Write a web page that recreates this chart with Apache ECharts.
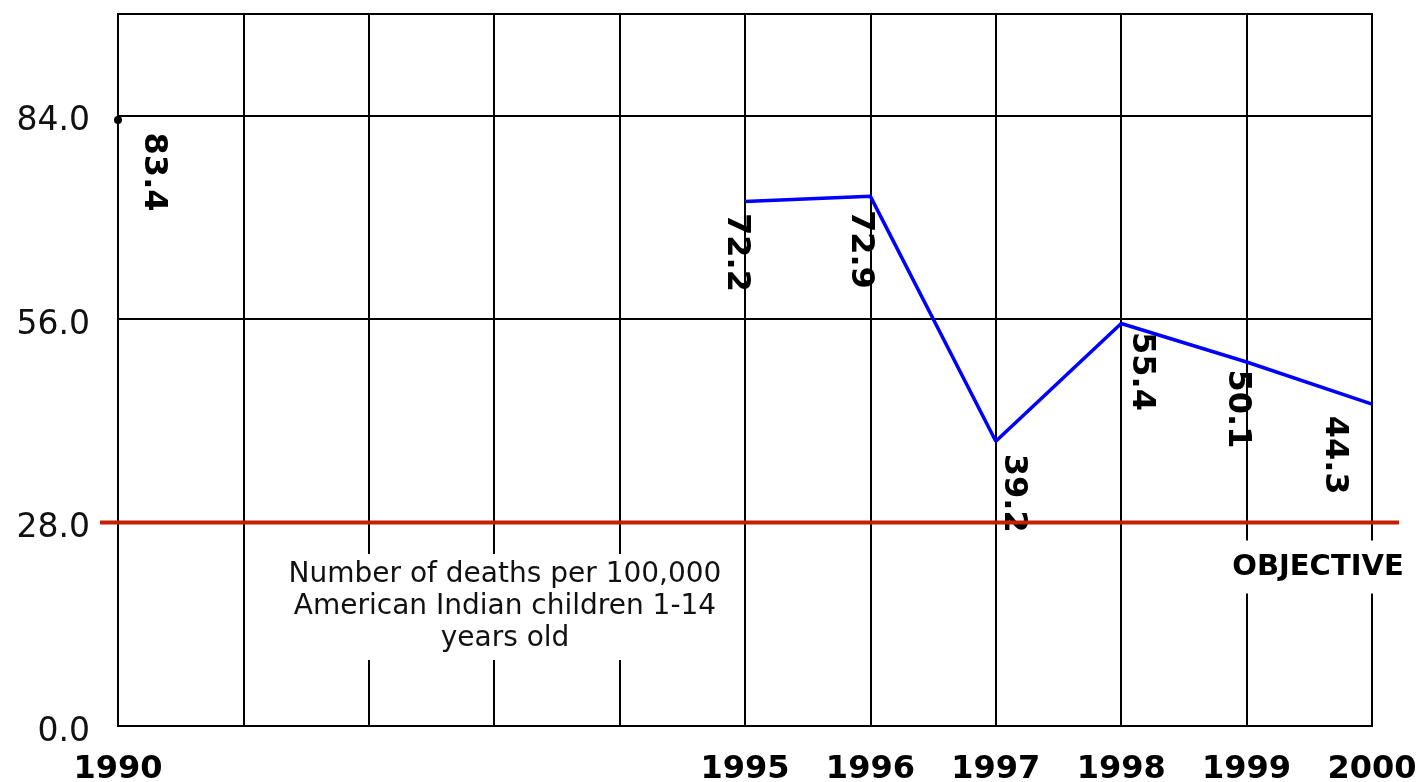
<!DOCTYPE html>
<html>
<head>
<meta charset="utf-8">
<title>Deaths of American Indian children 1-14</title>
<script src="https://cdn.jsdelivr.net/npm/echarts@6/dist/echarts.min.js"></script>
<style>
  html, body { margin: 0; padding: 0; background: #fff; }
  #chart { width: 1423px; height: 782px; }
</style>
</head>
<body>
<div id="chart"></div>
<script>
var years = [1990, 1991, 1992, 1993, 1994, 1995, 1996, 1997, 1998, 1999, 2000]
var rates = [83.4, null, null, null, null, 72.2, 72.9, 39.2, 55.4, 50.1, 44.3]
var labeledYears = [1990, 1995, 1996, 1997, 1998, 1999, 2000]
var yTickStep = 28
var yMax = 98
var objective = 28

// where each value label sits, relative to its point (screen px)
var labelShift = {
  1990: [35, 52],
  1995: [-9, 51],
  1996: [-10, 53],
  1997: [18, 52],
  1998: [20, 48],
  1999: [-9, 47],
  2000: [-38, 51]
}

var FONT = '"DejaVu Sans", Verdana, sans-serif'

var seriesData = years.map(function (y, i) {
  var v = rates[i]
  var prev = i > 0 ? rates[i - 1] : null
  var next = i < rates.length - 1 ? rates[i + 1] : null
  var isolated = v != null && prev == null && next == null
  return {
    value: [y, v == null ? '-' : v],
    symbol: 'circle',
    symbolSize: isolated ? 8 : 0,
    itemStyle: { color: isolated ? '#000' : '#0000ff' }
  }
})

var chart = echarts.init(document.getElementById('chart'))
chart.setOption({
  animation: false,
  backgroundColor: '#fff',
  grid: [
    {
      left: 118,
      right: 51,
      top: 14,
      bottom: 56,
      show: true,
      borderColor: '#000',
      borderWidth: 2,
      containLabel: false,
      outerBoundsMode: 'none'
    },
    {
      // same vertical scale, a bit wider: the objective line overhangs the frame
      left: 100,
      right: 24,
      top: 14,
      bottom: 56,
      containLabel: false,
      outerBoundsMode: 'none'
    }
  ],
  xAxis: [
    {
      type: 'value',
      gridIndex: 0,
      min: years[0],
      max: years[years.length - 1],
      interval: 1,
      axisLine: { show: true, lineStyle: { color: '#000', width: 2 } },
      axisTick: { show: false },
      splitLine: { show: true, lineStyle: { color: '#000', width: 2 } },
      axisLabel: {
        margin: 28,
        color: '#000',
        fontFamily: FONT,
        fontWeight: 'bold',
        fontSize: 32,
        showMinLabel: true,
        showMaxLabel: true,
        formatter: function (v) {
          return labeledYears.indexOf(v) >= 0 ? String(v) : ''
        }
      }
    },
    {
      type: 'value',
      gridIndex: 1,
      min: 0,
      max: 1,
      show: false
    }
  ],
  yAxis: [
    {
      type: 'value',
      gridIndex: 0,
      min: 0,
      max: yMax,
      interval: yTickStep,
      axisLine: { show: true, lineStyle: { color: '#000', width: 2 } },
      axisTick: { show: false },
      splitLine: { show: true, lineStyle: { color: '#000', width: 2 } },
      axisLabel: {
        margin: 28,
        color: '#111',
        fontFamily: FONT,
        fontSize: 33,
        verticalAlign: 'top',
        lineHeight: 12,
        formatter: function (v) {
          return v >= yMax ? '' : v.toFixed(1)
        }
      }
    },
    {
      type: 'value',
      gridIndex: 1,
      min: 0,
      max: yMax,
      show: false
    }
  ],
  series: [
    {
      name: 'Deaths per 100,000',
      type: 'line',
      xAxisIndex: 0,
      yAxisIndex: 0,
      data: seriesData,
      clip: false,
      connectNulls: false,
      showSymbol: true,
      z: 3,
      lineStyle: { color: '#0000ff', width: 3.5 },
      label: {
        show: true,
        position: 'inside',
        rotate: -90,
        color: '#000',
        fontFamily: FONT,
        fontWeight: 'bold',
        fontSize: 32,
        formatter: function (p) {
          return p.value[1].toFixed(1)
        }
      },
      labelLayout: function (p) {
        // dx/dy work in the label's rotated frame
        var s = labelShift[years[p.dataIndex]] || [0, 0]
        return { dx: s[1], dy: -s[0] }
      }
    },
    {
      name: 'Objective',
      type: 'line',
      xAxisIndex: 1,
      yAxisIndex: 1,
      data: [[0, objective], [1, objective]],
      symbol: 'none',
      silent: true,
      z: 5,
      lineStyle: { color: '#c42000', width: 4 }
    }
  ],
  graphic: [
    {
      type: 'text',
      x: 505,
      y: 607,
      z: 10,
      style: {
        text: 'Number of deaths per 100,000\nAmerican Indian children 1-14\nyears old',
        font: '28px ' + FONT,
        fill: '#111',
        align: 'center',
        verticalAlign: 'middle',
        lineHeight: 32,
        backgroundColor: '#fff',
        padding: [5, 12]
      }
    },
    {
      type: 'text',
      x: 1318,
      y: 567,
      z: 10,
      style: {
        text: 'OBJECTIVE',
        font: 'bold 29px ' + FONT,
        fill: '#000',
        align: 'center',
        verticalAlign: 'middle',
        backgroundColor: '#fff',
        padding: [12, 8]
      }
    }
  ]
})
</script>
</body>
</html>
